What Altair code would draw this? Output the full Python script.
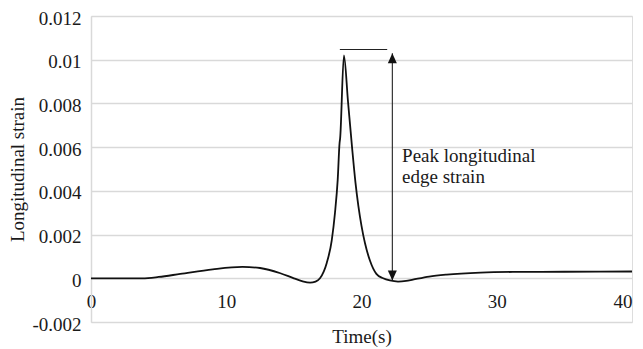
import altair as alt
import pandas as pd

# Curve data (time in s, longitudinal strain)
TIME = [0, 3.8, 5.0, 6.6, 9.0, 11.2, 12.5, 14.0, 15.0, 15.6, 16.2, 16.6, 16.93, 17.43,
        17.8, 18.04, 18.24, 18.38, 18.42, 18.7, 19.0, 19.3, 19.55, 19.77, 20.0, 20.26,
        20.63, 21.1, 21.6, 22.1, 22.7, 23.3, 23.8, 25.0, 26.3, 28.8, 31.2, 35.0, 40.0]
STRAIN = [0, 0, 0.00006, 0.0002, 0.00041, 0.00052, 0.00047, 0.00023, 0.0, -0.00013,
          -0.0002, -0.00015, 0.0, 0.0007, 0.00174, 0.003, 0.0045, 0.0062, 0.0064,
          0.0102, 0.0081, 0.006, 0.0044, 0.0033, 0.0024, 0.0016, 0.0008, 0.0002, 0.0,
          -0.0001, -0.00015, -0.00012, -0.00006, 0.00008, 0.00017, 0.00026, 0.00029,
          0.0003, 0.00031]

X_TICKS = [0, 10, 20, 30, 40]
Y_TICKS = [-0.002, 0, 0.002, 0.004, 0.006, 0.008, 0.01, 0.012]

# Annotation values
PEAK_LINE_T = [18.4, 21.9]
PEAK_LINE_V = 0.01047
ARROW_T = 22.28
ARROW_V = [-0.0001, 0.0103]
LABEL_T = 23.0
LABEL_V = 0.0053
LABEL_TEXT = "Peak longitudinal\nedge strain"

FONT = "Liberation Serif"
FS = 19
TXT = "#1a1a1a"
GRID = "#d9d9d9"

curve = pd.DataFrame({"t": TIME, "v": STRAIN})
hline = pd.DataFrame({"t": [PEAK_LINE_T[0]], "t2": [PEAK_LINE_T[1]], "v": [PEAK_LINE_V]})
vline = pd.DataFrame({"t": [ARROW_T], "v": [ARROW_V[0]], "v2": [ARROW_V[1]]})
heads_up = pd.DataFrame({"t": [ARROW_T], "v": [ARROW_V[1]]})
heads_down = pd.DataFrame({"t": [ARROW_T], "v": [ARROW_V[0]]})
label = pd.DataFrame({"t": [LABEL_T], "v": [LABEL_V], "label": [LABEL_TEXT]})

xscale = alt.Scale(domain=[0, 40], nice=False, zero=False)
yscale = alt.Scale(domain=[-0.002, 0.012], nice=False, zero=False)

x_enc = alt.X("t:Q", scale=xscale, axis=alt.Axis(
    values=X_TICKS, title="Time(s)", grid=False, domain=False, ticks=False,
    offset=-43.7, labelPadding=14, labelFont=FONT, labelFontSize=FS, labelColor=TXT,
    labelAlign=alt.expr("datum.value == 40 ? 'right' : 'center'"),
    labelFlush=False,
    titleFont=FONT, titleFontSize=FS, titleFontWeight="normal", titleColor=TXT,
    titleY=64.5, titleBaseline="alphabetic"))
y_enc = alt.Y("v:Q", scale=yscale, axis=alt.Axis(
    values=Y_TICKS, title="Longitudinal strain", grid=True, gridColor=GRID,
    gridWidth=1.5, domain=True, domainColor=GRID, domainWidth=1.5, ticks=False,
    labelPadding=10, labelOffset=2, labelFont=FONT, labelFontSize=FS, labelColor=TXT,
    labelExpr="replace(format(datum.value, '.3~f'), '\u2212', '-')",
    titleFont=FONT, titleFontSize=FS, titleFontWeight="normal", titleColor=TXT,
    titleX=-67.5, titleY=153, titleBaseline="alphabetic", titleAlign="center",
    titleAngle=-90))

line = alt.Chart(curve).mark_line(color="#111111", strokeWidth=1.8, interpolate="monotone").encode(
    x=x_enc, y=y_enc)

h = alt.Chart(hline).mark_rule(color="#222222", strokeWidth=1.1).encode(
    x=alt.X("t:Q", scale=xscale), x2="t2:Q", y=alt.Y("v:Q", scale=yscale))

v = alt.Chart(vline).mark_rule(color="#222222", strokeWidth=1.1).encode(
    x=alt.X("t:Q", scale=xscale), y=alt.Y("v:Q", scale=yscale), y2="v2:Q")

up = alt.Chart(heads_up).mark_point(
    shape="M0,0L-0.45,1L0.45,1Z", size=400, filled=True, color="#111111", opacity=1).encode(
    x=alt.X("t:Q", scale=xscale), y=alt.Y("v:Q", scale=yscale))
down = alt.Chart(heads_down).mark_point(
    shape="M0,0L-0.45,-1L0.45,-1Z", size=400, filled=True, color="#111111", opacity=1).encode(
    x=alt.X("t:Q", scale=xscale), y=alt.Y("v:Q", scale=yscale))

txt = alt.Chart(label).mark_text(
    align="left", baseline="alphabetic", lineBreak="\n", lineHeight=21,
    font=FONT, fontSize=FS, color=TXT).encode(
    x=alt.X("t:Q", scale=xscale), y=alt.Y("v:Q", scale=yscale), text="label:N")

chart = alt.layer(line, h, v, up, down, txt).properties(
    width=541, height=306,
    padding={"left": 83, "top": 8, "right": 3, "bottom": 27},
    autosize=alt.AutoSizeParams(type="none"),
).configure_view(stroke=None).configure(background="white")

chart.save("out.html", embed_options={"renderer": "svg", "actions": False})
